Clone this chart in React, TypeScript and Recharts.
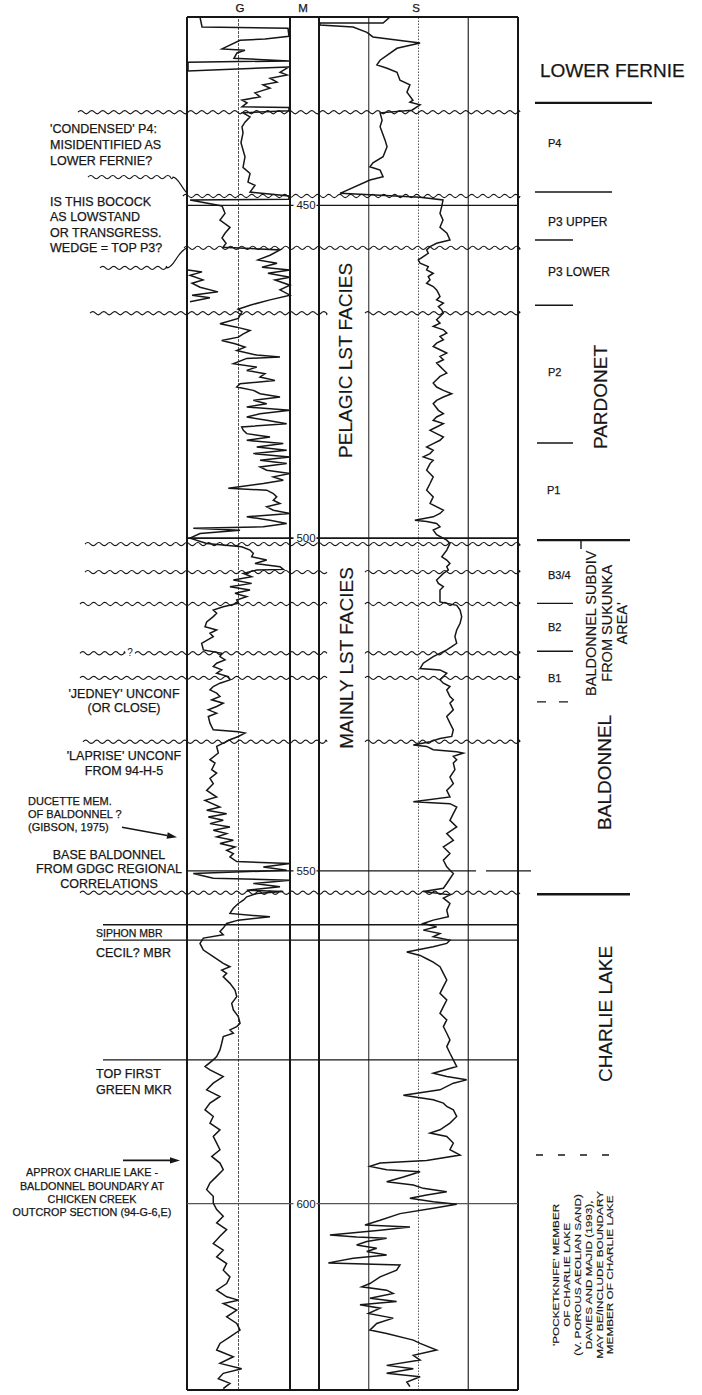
import React from 'react';
import { ComposedChart, Scatter, XAxis, YAxis, ReferenceLine } from 'recharts';

// ================= DATA =================
const depthRange = [421.7, 628.0];
const depthTicks = [450, 500, 550, 600];
const trackLabels = ['G', 'M', 'S'];
const gRange = [0, 100];
const sRange = [0, 100];
const gGrid = [0, 50, 100];
const sGrid = [0, 25, 50, 75, 100];

// G log: [depth, value]
const gammaLog = [
  [421.7,12.6],[423.2,14.6],[423.4,98.1],[424.6,99],[425.0,75.7],[425.2,51.5],[426.5,34],[426.7,56.3],[427.1,48.5],[427.9,45.6],
  [428.3,99],[428.5,1],[429.8,1],[429.2,99],[430.0,90.3],[430.4,97.1],[430.9,80.6],[431.5,87.4],[431.9,73.8],[432.4,80.6],
  [433.1,66],[433.7,70.9],[434.2,53.4],[434.6,58.3],[435.2,53.4],[435.3,99],[435.8,99],[436.1,54.4],[436.7,61.2],[437.5,56.3],
  [438.2,53.4],[439.1,54.4],[440.6,52.4],[442.7,56.3],[444.3,54.4],[445.2,61.2],[446.5,59.2],[447.0,66],[448.0,61.2],[448.6,99],
  [449.1,99],[449.2,3],[450.1,34],[451.2,36.9],[452.2,32],[453.3,41.8],[454.2,36.9],[454.9,34],[455.7,37.9],[456.3,35],
  [456.7,90.3],[457.5,80.6],[458.2,68.9],[458.7,87.4],[459.3,72.8],[459.7,100],[460.2,78.6],[460.8,100],[461.2,85.4],[462.0,100],
  [462.7,90.3],[463.5,100],[464.2,80.6],[465.0,61.2],[465.6,49.5],[466.0,53.4],[467.0,49.8],[467.8,32],[468.3,48.3],[468.8,61.2],
  [469.3,54.7],[469.8,49.8],[470.3,33.7],[470.8,46.6],[471.3,56.3],[471.8,48.3],[472.5,67.7],[472.8,90.3],[473.0,58],[473.8,45],
  [474.3,67.7],[474.8,58],[475.3,75.7],[475.8,70.9],[476.3,85.4],[476.8,51.5],[477.3,48.3],[477.8,64.4],[478.3,70.9],[478.8,90.3],
  [479.3,64.4],[479.8,77.4],[480.3,58],[480.8,100],[481.3,70.9],[481.8,58],[482.3,77.4],[482.8,96.8],[483.3,53.1],[483.8,54.7],
  [484.3,58],[484.8,80.6],[485.3,58],[485.8,93.5],[486.3,67.7],[486.8,96.8],[487.3,64.4],[487.8,100],[488.3,70.9],[488.8,96.8],
  [489.3,70.9],[489.8,77.4],[490.3,100],[490.8,83.8],[491.3,93.5],[491.8,74.1],[492.5,40.1],[492.8,77.4],[493.3,83.8],[493.8,87.1],
  [494.3,83.8],[494.8,90.3],[495.3,77.4],[495.8,83.8],[496.3,100],[496.8,58],[497.3,80.6],[497.8,96.8],[498.3,74.1],[498.5,6.1],
  [498.8,51.5],[499.3,12.6],[500.0,2.9],[500.8,19.1],[501.3,53.1],[501.8,61.2],[502.3,64.4],[502.8,62.8],[503.3,77.4],[503.8,66],
  [504.3,90.3],[504.7,93.5],[504.8,67.7],[505.3,54.7],[505.8,62.8],[506.3,45],[506.8,62.8],[507.3,41.7],[507.8,61.2],[508.3,46.6],
  [508.8,58],[509.3,48.3],[509.8,49.8],[510.3,35.2],[510.8,25.5],[511.3,28.8],[511.8,25.5],[512.6,19.1],[513.3,17.5],[513.8,28.8],
  [514.3,22.3],[514.8,25.5],[515.8,14.2],[516.8,15.9],[517.3,33.7],[517.8,32],[518.3,36.9],[518.8,28.8],[519.3,25.5],[519.8,33.7],
  [520.3,28.8],[520.8,40.1],[521.3,41.7],[521.8,32],[522.3,25.5],[522.8,22.3],[523.3,28.8],[523.8,32],[524.3,24],[524.8,35.2],
  [525.3,28.8],[525.8,20.7],[526.3,28.8],[526.8,20.7],[527.8,22.3],[528.8,25.5],[529.1,49.8],[529.3,56.3],[529.8,49.8],[530.3,41.7],
  [530.8,35.2],[531.3,28.8],[532.3,30.4],[533.3,22.3],[533.8,27.2],[534.8,24],[535.3,28.8],[536.1,22.3],[536.9,25.5],[537.9,19.1],
  [538.9,28.8],[539.4,17.5],[540.4,32],[540.9,19.1],[541.4,38.5],[541.9,20.7],[542.4,35.2],[542.9,22.3],[543.4,41.7],[543.9,25.5],
  [544.4,38.5],[544.9,28.8],[545.4,45],[545.9,32],[546.4,46.6],[546.9,38.5],[547.4,45],[547.9,41.7],[548.6,48.3],[548.9,100],
  [549.4,74.1],[549.9,96.8],[550.4,6.1],[551.1,25.5],[551.4,100],[551.9,64.4],[552.4,90.3],[552.9,58],[553.1,93.5],[553.4,67.7],
  [553.9,58],[554.4,54.7],[554.9,49.8],[555.6,45],[556.4,41.7],[556.9,80.6],[557.4,49.8],[557.9,38.5],[558.6,35.2],[559.1,32],
  [559.6,35.2],[560.1,15.9],[560.9,12.6],[561.9,15.9],[562.9,25.5],[563.9,35.2],[564.4,41.7],[564.9,33.7],[565.4,38.5],[565.9,35.2],
  [566.9,41.7],[567.9,46.6],[568.9,48.3],[569.9,43.4],[570.9,45],[571.9,49.8],[572.9,51.5],[573.4,48.3],[573.9,41.7],[574.4,45],
  [574.9,35.2],[575.9,33.7],[576.9,32],[577.9,28.8],[578.4,25.5],[579.4,17.5],[579.9,22.3],[580.9,35.2],[581.9,25.5],[582.9,19.1],
  [583.9,32],[584.9,22.3],[585.9,17.5],[586.9,25.5],[587.9,22.3],[588.9,32],[589.9,25.5],[590.9,28.8],[591.9,32],[592.9,24],
  [593.9,32],[594.9,35.2],[595.9,28.8],[596.9,22.3],[597.9,19.1],[598.9,25.5],[599.9,25.5],[600.9,28.8],[601.9,35.2],[602.9,28.8],
  [603.9,38.5],[604.9,32],[606.0,25.5],[607.0,35.2],[608.0,28.8],[609.0,38.5],[610.0,35.2],[611.0,41.7],[612.0,38.5],[613.0,28.8],
  [614.0,38.5],[614.5,49.8],[615.0,35.2],[616.0,48.3],[617.0,38.5],[618.0,48.3],[619.0,51.5],[620.0,41.7],[621.0,32],[622.0,28.8],
  [623.0,45],[624.0,32],[624.8,53.1],[625.5,35.2],[626.3,30.4],[627.0,41.7],[627.8,35.2],
];

// G backup (wrapped) trace
const gammaWrapLog = [
  [459.7,1],[460.0,14.6],[460.5,2.9],[461.2,15.5],[461.7,4.9],[462.3,12.6],[463.0,30.1],[463.5,4.9],[463.9,22.3],[464.5,2.9],
];

// S log: [depth, value]
const sonicLog = [
  [421.7,35.7],[422.6,32.2],[422.6,0.5],[422.9,0.5],[423.2,17.1],[424.0,24.1],[424.7,27.1],[425.6,50.8],[426.4,39.2],[428.2,30.7],
  [428.9,29.1],[429.4,34.2],[430.0,39.2],[431.2,40.7],[431.9,45.7],[433.0,44.2],[434.2,47.2],[434.5,45.7],[434.9,50.8],[435.7,46.7],
  [436.1,30.7],[437.2,31.7],[438.2,30.7],[440.2,33.2],[441.2,34.2],[442.7,32.2],[443.6,27.1],[444.2,25.6],[444.7,30.7],[445.7,32.2],
  [446.2,25.6],[448.2,10.6],[448.8,50.8],[449.2,62.3],[450.0,61.8],[451.2,60.8],[452.2,62.3],[453.3,60.8],[454.2,64.3],[455.2,65.8],
  [455.7,59.1],[456.2,55.8],[456.7,54.1],[457.2,54.9],[457.7,52.4],[458.2,49.9],[458.7,50.8],[459.2,54.9],[459.7,54.1],[460.2,57.4],
  [460.7,54.9],[461.2,55.8],[461.7,54.1],[462.2,57.4],[462.7,59.1],[463.2,60],[463.7,60.8],[464.2,59.1],[464.7,62.5],[465.2,60],
  [465.7,61.7],[466.2,62.5],[466.7,60.8],[467.2,59.1],[467.7,60.8],[468.2,57.4],[468.7,62.5],[469.2,64.2],[469.7,60.8],[470.2,62.5],
  [470.7,59.1],[471.2,57.4],[471.7,60.8],[472.2,64.2],[472.7,60.8],[473.2,62.5],[473.7,59.1],[474.2,60.8],[474.7,62.5],[475.2,64.2],
  [475.7,60.8],[476.2,59.1],[476.7,57.4],[477.3,59.1],[477.8,62.5],[478.3,66.7],[478.8,62.5],[479.3,59.1],[479.8,57.4],[480.8,60],
  [481.3,62.5],[481.8,59.1],[482.3,57.4],[482.8,62.5],[483.3,59.1],[483.8,55.8],[484.3,59.1],[484.8,62.5],[485.3,60.8],[485.8,57.4],
  [486.3,54.1],[486.8,57.4],[487.3,55.8],[487.8,52.4],[488.3,57.4],[488.8,55.8],[489.8,54.1],[490.8,57.4],[491.8,55.8],[492.8,54.1],
  [493.8,57.4],[494.8,55.8],[495.8,62.5],[496.3,60.8],[496.8,57.4],[497.3,48.2],[497.5,54.1],[497.8,59.1],[498.3,60.8],[498.8,57.4],
  [499.5,59.1],[500.3,64.2],[500.8,65.8],[501.8,64.2],[502.8,61.7],[503.3,64.2],[503.8,65.8],[504.3,64.2],[504.8,65],[505.3,62.5],
  [505.8,60.8],[506.3,59.1],[506.8,60],[507.3,62.5],[507.8,60.8],[508.8,60.8],[509.6,60.8],[510.1,69.2],[510.8,70.9],[511.8,71.7],
  [512.8,70.9],[513.8,69.2],[514.8,68.3],[515.8,69.2],[516.3,66.7],[516.8,64.2],[517.8,57.4],[518.8,52.4],[519.6,50.8],[519.8,60.8],
  [520.3,64.2],[520.8,62.5],[521.3,60.8],[521.8,62.5],[522.3,65.8],[522.8,64.2],[523.8,65.8],[524.3,67.5],[524.8,65.8],[525.8,67.5],
  [526.8,64.2],[527.8,65.8],[528.8,67.5],[529.8,66.7],[530.1,60.8],[530.6,55.8],[531.1,47.4],[531.3,54.1],[531.8,57.4],[532.1,69.2],
  [532.3,72.5],[532.8,67.5],[533.3,69.2],[533.8,67.5],[534.8,68.3],[535.9,65.8],[536.9,67.5],[537.9,64.2],[538.9,65.8],[539.6,47.4],
  [539.9,65.8],[540.4,69.2],[541.4,67.5],[542.4,65.8],[543.4,69.2],[544.4,64.2],[545.4,67.5],[546.4,62.5],[547.4,65.8],[548.4,62.5],
  [549.4,64.2],[550.4,67.5],[551.9,64.2],[552.6,62.5],[553.1,52.4],[553.6,65.8],[554.1,62.5],[554.9,65.8],[555.9,64.2],[556.9,65],
  [557.4,57.4],[557.9,52.4],[558.4,59.1],[558.9,52.4],[559.4,60.8],[559.9,57.4],[560.4,65.8],[560.9,64.2],[561.4,57.4],[562.2,44.1],
  [562.7,50.8],[563.2,54.1],[563.7,57.4],[564.4,60.8],[565.4,62.5],[566.4,64.2],[567.4,62.5],[568.4,60.8],[569.4,64.2],[570.4,62.5],
  [571.4,60.8],[572.4,64.2],[573.4,62.5],[574.4,64.2],[575.4,65.8],[576.4,64.2],[577.4,65.8],[578.4,67.5],[579.4,69.2],[580.4,57.4],
  [580.9,64.2],[581.4,74.2],[581.9,67.5],[582.9,60.8],[583.7,42.4],[584.4,57.4],[584.9,62.5],[585.4,64.2],[585.9,67.5],[586.9,69.2],
  [587.9,65.8],[588.9,60.8],[589.4,55.8],[589.9,64.2],[590.9,67.5],[591.9,65.8],[592.7,70.9],[593.5,54.1],[593.9,30.7],[594.4,25.6],
  [594.9,34],[595.2,50.8],[596.0,42.4],[596.7,34],[597.2,47.4],[597.7,52.4],[598.2,64.2],[598.7,54.1],[599.2,45.7],[599.7,57.4],
  [600.1,69.2],[600.7,57.4],[601.5,40.7],[602.5,30.7],[603.2,23.1],[603.5,45.7],[604.0,30.7],[604.7,5.5],[605.0,18.9],[605.2,34],
  [605.7,24],[606.2,18.9],[606.7,29],[607.2,24],[607.7,34],[608.2,17.2],[608.9,4.7],[609.2,40.7],[610.0,39],[611.0,30.7],
  [612.0,25.6],[612.5,21.5],[613.0,34],[613.5,37.3],[614.2,25.6],[614.7,39],[615.2,20.6],[615.7,30.7],[616.5,24.8],[617.2,37.3],
  [618.0,29],[619.0,25.6],[619.5,34],[620.5,47.4],[621.0,50.8],[622.0,59.1],[622.8,47.4],[623.5,50.8],[624.3,34],[624.8,47.4],
  [625.5,34],[626.0,50.8],[626.8,44.1],[627.5,45.7],
];

const unconformityDepths = [436.0, 448.6, 456.4, 466.2, 500.9, 505.1, 509.9, 517.3, 521.0, 530.6, 553.3];
const memberLineDepths = [558.1, 560.4, 578.4];
const unitBoundaryDepths = [434.6, 448.0, 455.2, 465.0, 485.7, 500.3, 509.8, 517.0, 524.6, 553.5, 592.7];
const unitLabels = ['LOWER FERNIE', 'P4', 'P3 UPPER', 'P3 LOWER', 'P2', 'P1', 'B3/4', 'B2', 'B1'];
const unitLabelDepths = [429.7, 440.6, 452.5, 459.9, 475.1, 492.8, 505.6, 513.4, 521.0];
const formationLabels = [
  ['PARDONET'],
  ['BALDONNEL SUBDIV', 'FROM SUKUNKA', "AREA'"],
  ['BALDONNEL'],
  ['CHARLIE LAKE'],
  ["'POCKETKNIFE' MEMBER", 'OF CHARLIE LAKE', '(V. POROUS AEOLIAN SAND)', 'DAVIES AND MAJID (1993),', 'MAY BE/INCLUDE BOUNDARY', 'MEMBER OF CHARLIE LAKE'],
];
const formationLabelDepths = [478.8, 512.8, 535.2, 571.5, 610.7];
const faciesLabels = ['PELAGIC LST FACIES', 'MAINLY LST FACIES'];
const faciesDepths = [473.3, 518.0];
const noteTexts = [
  ["'CONDENSED' P4:", 'MISIDENTIFIED AS', 'LOWER FERNIE?'],
  ['IS THIS BOCOCK', 'AS LOWSTAND', 'OR TRANSGRESS.', 'WEDGE = TOP P3?'],
  ["'JEDNEY' UNCONF", '(OR CLOSE)'],
  ["'LAPRISE' UNCONF", 'FROM 94-H-5'],
  ['DUCETTE MEM.', 'OF BALDONNEL ?', '(GIBSON, 1975)'],
  ['BASE BALDONNEL', 'FROM GDGC REGIONAL', 'CORRELATIONS'],
  ['SIPHON MBR'],
  ['CECIL? MBR'],
  ['TOP FIRST', 'GREEN MKR'],
  ['APPROX CHARLIE LAKE -', 'BALDONNEL BOUNDARY AT', 'CHICKEN CREEK', 'OUTCROP SECTION (94-G-6,E)'],
];
const noteDepths = [438.4, 449.35, 523.3, 532.6, 539.5, 547.5, 559.3, 562.2, 580.4, 595.3];
const leaderDepths = [445.75, 459.4];
const arrowDepths = [544.2, 593.5];

// ================= LAYOUT / STYLE =================
const W = 702;
const H = 1395;
const MARGIN = { top: 17, right: 0, bottom: 5, left: 0 };
const PLOT_W = W - MARGIN.left - MARGIN.right;
const G_PX = [187, 290];
const S_PX = [319, 518];
const PANEL_L = 187;
const PANEL_R = 518;
const M_CENTER = 305;
const FACIES_GAP = [327, 365];
const INK = '#161616';
const FONT = '"Liberation Sans", Arial, Helvetica, sans-serif';
const TEXT_STROKE = 0.25;

function axisDomain(px: number[], range: number[]) {
  const per = (range[1] - range[0]) / (px[1] - px[0]);
  const lo = range[0] - (px[0] - MARGIN.left) * per;
  return [lo, lo + PLOT_W * per];
}
const gDomain = axisDomain(G_PX, gRange);
const sDomain = axisDomain(S_PX, sRange);

const gGridStyle = [
  { w: 2, c: INK, dash: undefined },
  { w: 1, c: '#555', dash: '3 1' },
  { w: 2, c: INK, dash: undefined },
];
const sGridStyle = [
  { w: 2, c: INK, dash: undefined },
  { w: 1.1, c: '#333', dash: undefined },
  { w: 1, c: '#555', dash: '1.5 1.5' },
  { w: 1.2, c: '#2a2a2a', dash: undefined },
  { w: 2, c: INK, dash: undefined },
];
const trackLabelX = [240, 303, 416];
const unconfLayout = [
  { from: 78, gap: false }, { from: 183, gap: false }, { from: 184, gap: false }, { from: 90, gap: true },
  { from: 85, gap: false }, { from: 85, gap: true }, { from: 80, gap: true }, { from: 80, gap: true, mark: 130 },
  { from: 80, gap: true }, { from: 83, gap: true }, { from: 80, gap: false },
];
const memberLineFrom = 103;
const unitBoundaryLayout = [
  { x0: 535, x1: 652, w: 2.4 }, { x0: 535, x1: 612, w: 1.4 }, { x0: 535, x1: 573, w: 1.4 }, { x0: 535, x1: 573, w: 1.4 },
  { x0: 537, x1: 573, w: 1.4 }, { x0: 537, x1: 630, w: 2.4, tick: 581 }, { x0: 537, x1: 573, w: 1.4 }, { x0: 537, x1: 573, w: 1.4 },
  { x0: 537, x1: 573, w: 1.4, dash: '9 13' }, { x0: 537, x1: 630, w: 2.4 }, { x0: 536, x1: 612, w: 1.4, dash: '7 15' },
];
const unitLabelLayout = [
  { x: 540, fs: 19 }, { x: 548, fs: 11 }, { x: 548, fs: 12 }, { x: 548, fs: 12 }, { x: 548, fs: 11 },
  { x: 547, fs: 11 }, { x: 548, fs: 11 }, { x: 548, fs: 11 }, { x: 548, fs: 11 },
];
const formationLayout = [
  { cx: 600, fs: 19, lh: 0, stretch: 1 }, { cx: 591, fs: 14.5, lh: 15.5, stretch: 1 }, { cx: 604, fs: 19, lh: 0, stretch: 1 },
  { cx: 605, fs: 19, lh: 0, stretch: 1 }, { cx: 556, fs: 9.2, lh: 10.8, stretch: 1.28 },
];
const faciesX = [345, 346];
const faciesFont = 19;
const noteLayout = [
  { x: 50, anchor: 'start', fs: 12.5, lh: 16 },
  { x: 50, anchor: 'start', fs: 12.5, lh: 15.5 },
  { x: 124, anchor: 'middle', fs: 12.5, lh: 14 },
  { x: 124, anchor: 'middle', fs: 12.5, lh: 15.5 },
  { x: 28, anchor: 'start', fs: 11, lh: 13 },
  { x: 109, anchor: 'middle', fs: 12.5, lh: 14.5 },
  { x: 96, anchor: 'start', fs: 10.5, lh: 0 },
  { x: 96, anchor: 'start', fs: 12.5, lh: 0 },
  { x: 96, anchor: 'start', fs: 12.5, lh: 16 },
  { x: 92, anchor: 'middle', fs: 10.8, lh: 13.3 },
];
const arrowLayout = [
  { x0: 122, dy0: -5, x1: 177, dy1: 5 },
  { x0: 123, dy0: 0, x1: 180, dy1: 0 },
];

// ================= HELPERS =================
const gammaRows = gammaLog.map(([d, v]) => ({ d, g: v }));
const gammaWrapRows = gammaWrapLog.map(([d, v]) => ({ d, g: v }));
const sonicRows = sonicLog.map(([d, v]) => ({ d, s: v }));

const NoDot = () => null;

function wavyD(x0: number, x1: number, y: number, amp = 1.6, half = 5.5) {
  let d = `M${x0.toFixed(1)},${y.toFixed(1)}`;
  let x = x0;
  let s = -1;
  while (x < x1 - 0.1) {
    const nx = Math.min(x + half, x1);
    d += ` Q${((x + nx) / 2).toFixed(1)},${(y + s * amp * 2).toFixed(1)} ${nx.toFixed(1)},${y.toFixed(1)}`;
    x = nx;
    s = -s;
  }
  return d;
}

function TextLines({ x, y, lines, fs, lh, anchor }: any) {
  return (
    <text fontFamily={FONT} fontSize={fs} fill={INK} stroke={INK} strokeWidth={TEXT_STROKE} textAnchor={anchor}>
      {lines.map((t: string, i: number) => (
        <tspan key={i} x={x} y={y + i * lh + fs * 0.36}>{t}</tspan>
      ))}
    </text>
  );
}

function VText({ cx, cy, lines, fs, lh, stretch = 1 }: any) {
  return (
    <g>
      {lines.map((t: string, i: number) => {
        const x = cx + i * lh + fs * 0.36;
        return (
          <text key={i} x={x} y={cy}
            transform={`rotate(-90 ${x} ${cy}) translate(${x} ${cy}) scale(${stretch} 1) translate(${-x} ${-cy})`}
            textAnchor="middle" fontFamily={FONT} fontSize={fs} fill={INK} stroke={INK} strokeWidth={TEXT_STROKE * 0.6}>{t}</text>
        );
      })}
    </g>
  );
}

function at(depth: number, key: string, render: (y: number) => React.ReactNode) {
  return (
    <ReferenceLine key={key} xAxisId="g" yAxisId="d" y={depth} ifOverflow="visible"
      shape={(p: any) => <g>{render(p.y1)}</g>} />
  );
}

export default function App() {
  return (
    <div style={{ position: 'absolute', left: 0, top: 0, width: W, height: H, background: '#fff' }}>
      <ComposedChart width={W} height={H} margin={MARGIN}>
        <XAxis xAxisId="g" dataKey="g" type="number" domain={gDomain} allowDataOverflow hide />
        <XAxis xAxisId="s" dataKey="s" type="number" domain={sDomain} allowDataOverflow hide />
        <YAxis yAxisId="d" dataKey="d" type="number" domain={depthRange} reversed allowDataOverflow hide />

        {/* track grid */}
        {gGrid.map((v, i) => (
          <ReferenceLine key={'gg' + i} xAxisId="g" yAxisId="d" x={v} ifOverflow="visible"
            stroke={gGridStyle[i].c} strokeWidth={gGridStyle[i].w} strokeDasharray={gGridStyle[i].dash} />
        ))}
        {sGrid.map((v, i) => (
          <ReferenceLine key={'sg' + i} xAxisId="s" yAxisId="d" x={v} ifOverflow="visible"
            stroke={sGridStyle[i].c} strokeWidth={sGridStyle[i].w} strokeDasharray={sGridStyle[i].dash} />
        ))}

        {/* panel top/bottom borders and track headers */}
        {at(depthRange[0], 'top', (y) => (
          <g>
            <line x1={PANEL_L} x2={PANEL_R} y1={y} y2={y} stroke={INK} strokeWidth={2} />
            {trackLabels.map((t, i) => (
              <text key={t} x={trackLabelX[i]} y={y - 5} textAnchor="middle" fontFamily={FONT} fontSize={11.5}
                fill={INK} stroke={INK} strokeWidth={TEXT_STROKE}>{t}</text>
            ))}
          </g>
        ))}
        {at(depthRange[1], 'bottom', (y) => (
          <line x1={PANEL_L} x2={PANEL_R} y1={y} y2={y} stroke={INK} strokeWidth={2} />
        ))}

        {/* depth lines */}
        {depthTicks.map((d, i) => at(d, 'dt' + i, (y) => (
          <g>
            {d === 550 ? (
              <g>
                <line x1={PANEL_L} x2={476} y1={y} y2={y} stroke={INK} strokeWidth={1.4} />
                <line x1={486} x2={531} y1={y} y2={y} stroke={INK} strokeWidth={1.4} />
              </g>
            ) : (
              <line x1={PANEL_L} x2={PANEL_R} y1={y} y2={y} stroke={d === 600 ? '#555' : INK} strokeWidth={d === 500 ? 1.6 : 1.3} />
            )}
            <rect x={M_CENTER - 11.5} y={y - 6.5} width={23} height={13} fill="#fff" />
            <text x={M_CENTER + 1} y={y + 4} textAnchor="middle" fontFamily={FONT} fontSize={11.5} fill={INK}>{d}</text>
          </g>
        )))}

        {/* unconformities */}
        {unconformityDepths.map((d, i) => at(d, 'u' + i, (y) => {
          const L: any = unconfLayout[i];
          let segs: number[][] = L.gap ? [[L.from, FACIES_GAP[0]], [FACIES_GAP[1], PANEL_R + 2]] : [[L.from, PANEL_R + 2]];
          if (L.mark) {
            segs = [[L.from, L.mark - 5], [L.mark + 5, FACIES_GAP[0]], [FACIES_GAP[1], PANEL_R + 2]];
          }
          return (
            <g>
              {segs.map((s, k) => (
                <path key={k} d={wavyD(s[0], s[1], y)} fill="none" stroke={INK} strokeWidth={1.15} />
              ))}
              {L.mark ? (
                <text x={L.mark} y={y + 3} textAnchor="middle" fontFamily={FONT} fontSize={10} fill={INK}>?</text>
              ) : null}
            </g>
          );
        }))}

        {/* leader lines of the two upper notes */}
        {at(leaderDepths[0], 'ld0', (y) => (
          <path d={wavyD(88, 173, y) + ` C178,${y} 181,${y + 10} 187,${y + 16}`} fill="none" stroke={INK} strokeWidth={1.15} />
        ))}
        {at(leaderDepths[1], 'ld1', (y) => (
          <path d={wavyD(100, 167, y) + ` C174,${y} 177,${y - 16} 187,${y - 20}`} fill="none" stroke={INK} strokeWidth={1.15} />
        ))}

        {/* member lines */}
        {memberLineDepths.map((d, i) => at(d, 'm' + i, (y) => (
          <line x1={memberLineFrom} x2={PANEL_R} y1={y} y2={y} stroke={INK} strokeWidth={1.4} />
        )))}

        {/* right-hand unit boundaries */}
        {unitBoundaryDepths.map((d, i) => at(d, 'ub' + i, (y) => {
          const L: any = unitBoundaryLayout[i];
          return (
            <g>
              <line x1={L.x0} x2={L.x1} y1={y} y2={y} stroke={INK} strokeWidth={L.w} strokeDasharray={L.dash} />
              {L.tick ? <line x1={L.tick} x2={L.tick} y1={y} y2={y + 9} stroke={INK} strokeWidth={1.4} /> : null}
            </g>
          );
        }))}

        {/* unit labels */}
        {unitLabels.map((t, i) => at(unitLabelDepths[i], 'ul' + i, (y) => (
          <TextLines x={unitLabelLayout[i].x} y={y} lines={[t]} fs={unitLabelLayout[i].fs} lh={0} anchor="start" />
        )))}

        {/* formation labels (vertical) */}
        {formationLabels.map((lines, i) => at(formationLabelDepths[i], 'fl' + i, (y) => (
          <VText cx={formationLayout[i].cx} cy={y} lines={lines} fs={formationLayout[i].fs}
            lh={formationLayout[i].lh} stretch={formationLayout[i].stretch} />
        )))}

        {/* facies labels */}
        {faciesLabels.map((t, i) => at(faciesDepths[i], 'fc' + i, (y) => (
          <VText cx={faciesX[i]} cy={y} lines={[t]} fs={faciesFont} lh={0} />
        )))}

        {/* left-hand notes */}
        {noteTexts.map((lines, i) => at(noteDepths[i], 'n' + i, (y) => (
          <TextLines x={noteLayout[i].x} y={y} lines={lines} fs={noteLayout[i].fs} lh={noteLayout[i].lh} anchor={noteLayout[i].anchor} />
        )))}

        {/* arrows */}
        {arrowDepths.map((d, i) => at(d, 'a' + i, (y) => {
          const A = arrowLayout[i];
          const x0 = A.x0, y0 = y + A.dy0, x1 = A.x1, y1 = y + A.dy1;
          const ang = Math.atan2(y1 - y0, x1 - x0);
          const L = 10, hw = 3.2;
          const bx = x1 - L * Math.cos(ang), by = y1 - L * Math.sin(ang);
          const pts = `${x1},${y1} ${bx - hw * Math.sin(ang)},${by + hw * Math.cos(ang)} ${bx + hw * Math.sin(ang)},${by - hw * Math.cos(ang)}`;
          return (
            <g>
              <line x1={x0} y1={y0} x2={bx} y2={by} stroke={INK} strokeWidth={1.6} />
              <polygon points={pts} fill={INK} />
            </g>
          );
        }))}

        {/* logs */}
        <Scatter name="G" xAxisId="g" yAxisId="d" data={gammaRows} shape={NoDot} line={{ stroke: INK, strokeWidth: 1.5 }}
          lineType="joint" isAnimationActive={false} legendType="none" />
        <Scatter name="G wrap" xAxisId="g" yAxisId="d" data={gammaWrapRows} shape={NoDot} line={{ stroke: INK, strokeWidth: 1.5 }}
          lineType="joint" isAnimationActive={false} legendType="none" />
        <Scatter name="S" xAxisId="s" yAxisId="d" data={sonicRows} shape={NoDot} line={{ stroke: INK, strokeWidth: 1.5 }}
          lineType="joint" isAnimationActive={false} legendType="none" />
      </ComposedChart>
    </div>
  );
}
